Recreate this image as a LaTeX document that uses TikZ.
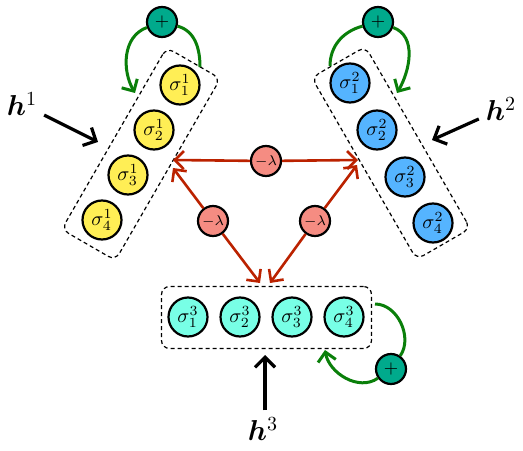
\documentclass[tikz,border=0pt]{standalone}
\usepackage{amsmath}
\usepackage{bm}
\usepackage{xcolor}
\usetikzlibrary{arrows.meta, calc}
\definecolor{SpinYellow}{HTML}{FFEE55}
\definecolor{SpinBlue}{HTML}{55B4FF}
\definecolor{SpinCyan}{HTML}{78FFE6}
\definecolor{LamSalmon}{HTML}{F58C82}
\definecolor{LamRed}{HTML}{BB2200}
\definecolor{PlusTeal}{HTML}{00AA8C}
\definecolor{LoopGreen}{HTML}{0A7F0A}
\tikzset{
    % Spin circles
    spin/.style={
        circle,
        draw=black,
        line width=1.1pt,
        minimum size=19.5pt,
        inner sep=0pt
    },
    spinA/.style={spin, fill=SpinYellow},
    spinB/.style={spin, fill=SpinBlue},
    spinC/.style={spin, fill=SpinCyan},
    % Dashed group boxes
    groupbox/.style={
        rectangle,
        draw=black,
        dash pattern=on 2pt off 1.5pt,
        line width=0.6pt,
        rounded corners=4pt,
        minimum width=105pt,
        minimum height=31pt
    },
    % Coupling and field nodes
    lamnode/.style={
        circle,
        draw=black,
        fill=LamSalmon,
        line width=1.1pt,
        minimum size=15pt,
        inner sep=0pt,
        font=\scriptsize
    },
    plusnode/.style={
        circle,
        draw=black,
        fill=PlusTeal,
        line width=1.1pt,
        minimum size=15pt,
        inner sep=0pt,
        font=\small
    },
    % Arrow styles
    lamarrow/.style={
        -{Straight Barb[length=4.5pt, width=9pt]},
        line width=1.3pt,
        draw=LamRed
    },
    looparrow/.style={
        line width=1.5pt,
        draw=LoopGreen
    },
    fieldarrow/.style={
        -{Straight Barb[length=5pt, width=10pt]},
        line width=1.6pt,
        draw=black
    }
}

\begin{document}
\begin{tikzpicture}[x=0.5pt, y=0.5pt]
    \useasboundingbox (0,0) rectangle (523,450);

    % Group 1
    \node[groupbox, rotate=60] (box1) at (141,296) {};
    \node[spinA] (s11) at (180,365) {$\sigma^1_1$};
    \node[spinA] (s12) at (154,320) {$\sigma^1_2$};
    \node[spinA] (s13) at (128,275) {$\sigma^1_3$};
    \node[spinA] (s14) at (102,230) {$\sigma^1_4$};

    % Group 2
    \node[groupbox, rotate=-60] (box2) at (391,297) {};
    \node[spinB] (s21) at (350,367) {$\sigma^2_1$};
    \node[spinB] (s22) at (377,320) {$\sigma^2_2$};
    \node[spinB] (s23) at (405,273) {$\sigma^2_3$};
    \node[spinB] (s24) at (433,227) {$\sigma^2_4$};

    % Group 3
    \node[groupbox] (box3) at (266.5,132.5) {};
    \node[spinC] (s31) at (188,133) {$\sigma^3_1$};
    \node[spinC] (s32) at (240,133) {$\sigma^3_2$};
    \node[spinC] (s33) at (292,133) {$\sigma^3_3$};
    \node[spinC] (s34) at (344,133) {$\sigma^3_4$};

    % Couplings
    \node[lamnode] (l12) at (266,289) {$-\lambda$};
    \node[lamnode] (l13) at (213,229) {$-\lambda$};
    \node[lamnode] (l23) at (315,229) {$-\lambda$};
    \coordinate (e12a) at (173,290);
    \coordinate (e12b) at (358,290);
    \coordinate (e13a) at (173,282);
    \coordinate (e13b) at (260,167);
    \coordinate (e23a) at (357,285);
    \coordinate (e23b) at (270,167);
    \draw[lamarrow] (l12) -- (e12a);
    \draw[lamarrow] (l12) -- (e12b);
    \draw[lamarrow] (l13) -- (e13a);
    \draw[lamarrow] (l13) -- (e13b);
    \draw[lamarrow] (l23) -- (e23a);
    \draw[lamarrow] (l23) -- (e23b);

    % Loops
    \node[plusnode] (p1) at (162,428) {$+$};
    \node[plusnode] (p2) at (378,428) {$+$};
    \node[plusnode] (p3) at (391,81) {$+$};
    \coordinate (a1) at (200,383);
    \coordinate (b1) at (135,357);
    \coordinate (a2) at (330,384);
    \coordinate (b2) at (397,357);
    \coordinate (a3) at (375,146);
    \coordinate (b3) at (325,100);
    \draw[looparrow] (a1) to[out=90, in=-15] (p1);
    \draw[looparrow, -{Straight Barb[length=4.5pt, width=9pt]}] (p1) to[out=200, in=120] (b1);
    \draw[looparrow] (a2) to[out=90, in=195] (p2);
    \draw[looparrow, -{Straight Barb[length=4.5pt, width=9pt]}] (p2) to[out=-20, in=60] (b2);
    \draw[looparrow] (a3) to[out=0, in=55] (p3);
    \draw[looparrow, -{Straight Barb[length=4.5pt, width=9pt]}] (p3) to[out=215, in=280] (b3);

    % Fields
    \node[font=\Large] (h1) at (22,346) {$\bm{h}^1$};
    \node[font=\Large] (h2) at (501,341) {$\bm{h}^2$};
    \node[font=\Large] (h3) at (263,21) {$\bm{h}^3$};
    \coordinate (f1) at (98,308);
    \coordinate (f2) at (432,310);
    \coordinate (f3) at (265,95);
    \draw[fieldarrow] (h1) -- (f1);
    \draw[fieldarrow] (h2) -- (f2);
    \draw[fieldarrow] (f3 |- h3.north) -- (f3);
\end{tikzpicture}
\end{document}
